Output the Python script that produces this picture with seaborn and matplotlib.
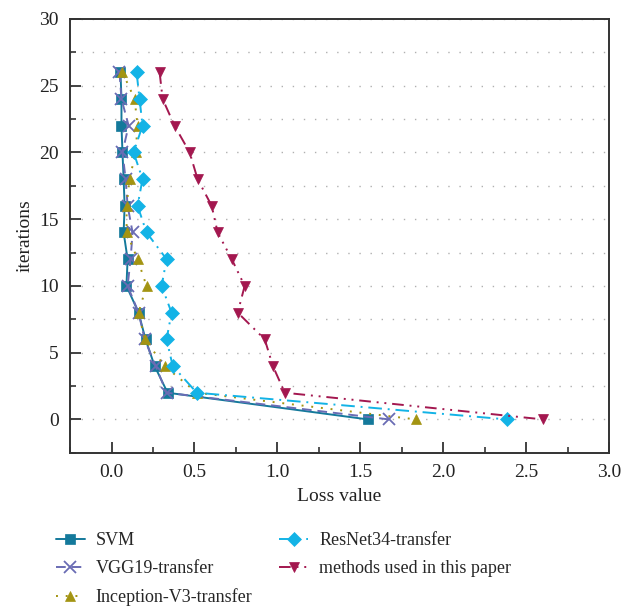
import matplotlib
matplotlib.use("Agg")
import matplotlib.pyplot as plt
from matplotlib.ticker import MultipleLocator
import seaborn as sns
import pandas as pd

iterations = [26, 24, 22, 20, 18, 16, 14, 12, 10, 8, 6, 4, 2, 0]
svm = [0.054, 0.060, 0.060, 0.066, 0.073, 0.079, 0.073, 0.097, 0.090, 0.163, 0.205, 0.260, 0.338, 1.547]
vgg19 = [0.048, 0.060, 0.103, 0.066, 0.085, 0.097, 0.127, 0.115, 0.097, 0.163, 0.200, 0.266, 0.332, 1.674]
inception = [0.066, 0.139, 0.157, 0.145, 0.109, 0.091, 0.091, 0.157, 0.211, 0.163, 0.200, 0.320, 0.514, 1.837]
resnet34 = [0.151, 0.169, 0.187, 0.133, 0.187, 0.157, 0.211, 0.332, 0.302, 0.362, 0.332, 0.369, 0.514, 2.387]
ours = [0.290, 0.308, 0.380, 0.471, 0.519, 0.604, 0.640, 0.725, 0.803, 0.761, 0.924, 0.973, 1.045, 2.604]

names = ["SVM", "VGG19-transfer", "Inception-V3-transfer", "ResNet34-transfer", "methods used in this paper"]
series = [svm, vgg19, inception, resnet34, ours]
colors = ["#14799b", "#6a6cb4", "#a39412", "#13b3e6", "#a3174f"]
markers = ["s", "x", "^", "D", "v"]
dashes = [(None, None), (0, (5, 3)), (0, (1, 4)), (0, (7, 3, 1, 3)), (0, (6, 3, 1, 3, 1, 3))]

sns.set_theme(style="white")
plt.rcParams["font.family"] = ["Liberation Serif", "DejaVu Serif"]
plt.rcParams["mathtext.fontset"] = "stix"

fig = plt.figure(figsize=(6.37, 6.07), dpi=100)
ax = fig.add_axes([0.110, 0.254, 0.846, 0.715])

for name, vals, c, m, ls in zip(names, series, colors, markers, dashes):
    df = pd.DataFrame({"loss": vals, "it": iterations})
    kw = {}
    if ls[0] is None:
        kw["linestyle"] = "-"
    else:
        kw["linestyle"] = ls
    sns.lineplot(data=df, x="loss", y="it", sort=False, estimator=None, ax=ax,
                 color=c, marker=m, markersize=7.5 if m != "x" else 8,
                 markeredgewidth=1.3 if m == "x" else 0.5,
                 markeredgecolor=c, linewidth=1.4, label=name, **kw)

ax.set_xlim(-0.25, 3.0)
ax.set_ylim(-2.5, 30)
ax.xaxis.set_major_locator(MultipleLocator(0.5))
ax.xaxis.set_minor_locator(MultipleLocator(0.25))
ax.yaxis.set_major_locator(MultipleLocator(5))
ax.yaxis.set_minor_locator(MultipleLocator(2.5))
ax.tick_params(which="major", direction="in", length=8, width=1.3, color="#333333",
               labelsize=14, labelcolor="#222222", pad=8, bottom=True, left=True)
ax.tick_params(which="minor", direction="in", length=4, width=1.2, color="#333333",
               bottom=True, left=True)
ax.xaxis.set_major_formatter(matplotlib.ticker.FormatStrFormatter("%.1f"))
ax.yaxis.grid(True, which="both", linestyle=(0, (1, 7)), color="#b0b0b0", linewidth=1.0)
ax.xaxis.grid(False)
for s in ax.spines.values():
    s.set_color("#333333")
    s.set_linewidth(1.4)

ax.set_xlabel("Loss value", fontsize=14, color="#222222", labelpad=5)
ax.set_ylabel("iterations", fontsize=14, color="#222222", labelpad=4)

handles, labels = ax.get_legend_handles_labels()
ax.get_legend().remove()
fig.legend(handles, labels, ncol=2, loc="upper left", bbox_to_anchor=(0.062, 0.150),
           frameon=False, fontsize=13, handlelength=1.6, columnspacing=1.5,
           labelspacing=0.62, handletextpad=0.6)

fig.savefig("out.png", dpi=100)
